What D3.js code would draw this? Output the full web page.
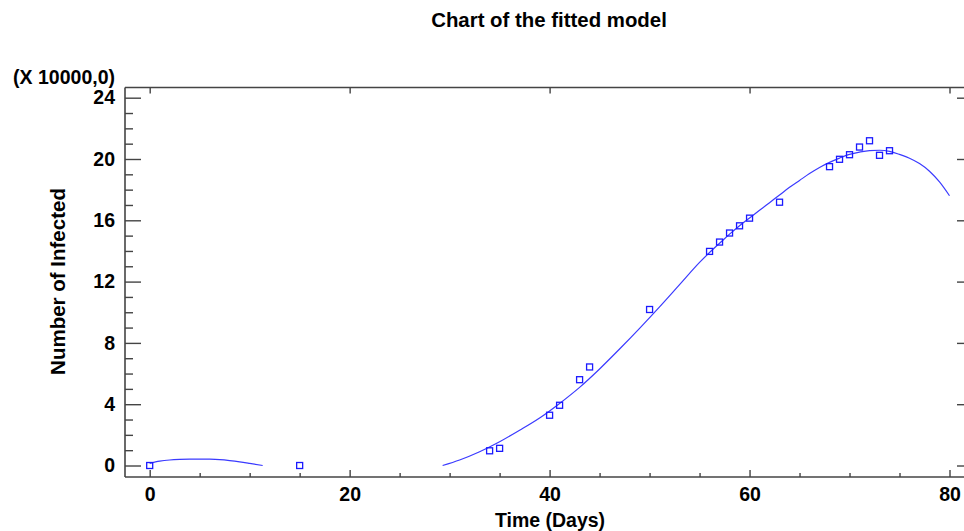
<!DOCTYPE html>
<html><head><meta charset="utf-8">
<script src="https://cdn.jsdelivr.net/npm/d3@7"></script>
<style>
body{margin:0;background:#fff;}
text{font-family:"Liberation Sans",Arial,sans-serif;font-weight:bold;fill:#000;}
</style></head>
<body>
<svg id="chart" width="964" height="531"></svg>
<script>
// Observed data (days, number of infected in units of 10000)
const obsDays = [0, 15, 34, 35, 40, 41, 43, 44, 50, 56, 57, 58, 59, 60, 63, 68, 69, 70, 71, 72, 73, 74];
const obsInfected = [0, 0, 0.96, 1.12, 3.28, 3.93, 5.6, 6.43, 10.18, 13.97, 14.58, 15.17, 15.64, 16.14, 17.18, 19.5, 19.98, 20.28, 20.78, 21.19, 20.24, 20.54];

// Fitted model curve (two visible pieces)
const fitDays1 = [0, 1, 2, 3, 4, 5, 6, 7, 8, 9, 10, 11.3];
const fitValues1 = [0.14, 0.28, 0.36, 0.40, 0.42, 0.42, 0.41, 0.38, 0.32, 0.24, 0.14, 0];
const fitDays2 = [29.3, 31, 33, 35, 37, 39, 41, 43, 45, 47, 49, 51, 53, 55, 56, 57, 58, 59, 60, 61, 62, 63, 64, 65, 66, 67, 68, 69, 70, 71, 72, 73, 74, 75, 76, 77, 78, 79, 80];
const fitValues2 = [0, 0.36, 0.9, 1.55, 2.3, 3.1, 4.05, 5.1, 6.3, 7.6, 8.95, 10.35, 11.8, 13.25, 13.9, 14.5, 15.1, 15.65, 16.15, 16.65, 17.15, 17.65, 18.15, 18.6, 19.05, 19.45, 19.78, 20.06, 20.3, 20.45, 20.55, 20.57, 20.5, 20.3, 20.05, 19.7, 19.2, 18.5, 17.6];

const xMajorTicks = [0, 20, 40, 60, 80];
const xMinorTicks = [5, 10, 15, 25, 30, 35, 45, 50, 55, 65, 70, 75];
const yMajorTicks = [0, 4, 8, 12, 16, 20, 24];
const yMinorTicks = [1, 2, 3, 5, 6, 7, 9, 10, 11, 13, 14, 15, 17, 18, 19, 21, 22, 23];

const titleText = "Chart of the fitted model";
const xLabel = "Time (Days)";
const yLabel = "Number of Infected";
const yMultiplier = "(X 10000,0)";

const svg = d3.select("#chart");
const L = 125, R = 973, T = 87.5, B = 477;
const x = d3.scaleLinear().domain([-2.47, 82.35]).range([L, R]);
const y = d3.scaleLinear().domain([-0.75, 24.665]).range([B, T]);
const FS = "19.5px";
const axisColor = "#444";

// frame
const frame = svg.append("g").attr("stroke", axisColor).attr("stroke-width", 1.6).attr("fill", "none");
frame.append("line").attr("x1", L).attr("x2", L).attr("y1", T).attr("y2", B);
frame.append("line").attr("x1", L).attr("x2", R).attr("y1", B).attr("y2", B);
frame.append("line").attr("x1", L).attr("x2", R).attr("y1", T).attr("y2", T);
frame.append("line").attr("x1", R).attr("x2", R).attr("y1", T).attr("y2", B);

function styleAxis(g) {
  g.select(".domain").remove();
  g.selectAll(".tick line").attr("stroke", axisColor).attr("stroke-width", 1.4);
  g.selectAll(".tick text").style("font-size", FS).attr("fill", "#000");
}

// bottom axis
svg.append("g").attr("transform", `translate(0,${B})`)
  .call(d3.axisBottom(x).tickValues(xMajorTicks).tickSize(-7).tickPadding(10).tickFormat(d3.format("d")))
  .call(styleAxis);
svg.append("g").attr("transform", `translate(0,${B})`)
  .call(d3.axisBottom(x).tickValues(xMinorTicks).tickSize(-4).tickFormat(""))
  .call(styleAxis);
// top axis ticks
svg.append("g").attr("transform", `translate(0,${T})`)
  .call(d3.axisTop(x).tickValues(xMajorTicks).tickSize(-6).tickFormat(""))
  .call(styleAxis);
// left axis
svg.append("g").attr("transform", `translate(${L},0)`)
  .call(d3.axisLeft(y).tickValues(yMajorTicks).tickSize(-16).tickPadding(10).tickFormat(d3.format("d")))
  .call(styleAxis);
svg.append("g").attr("transform", `translate(${L},0)`)
  .call(d3.axisLeft(y).tickValues(yMinorTicks).tickSize(-8).tickFormat(""))
  .call(styleAxis);
// right axis ticks
svg.append("g").attr("transform", `translate(${R},0)`)
  .call(d3.axisRight(y).tickValues(yMajorTicks).tickSize(-16).tickFormat(""))
  .call(styleAxis);
svg.append("g").attr("transform", `translate(${R},0)`)
  .call(d3.axisRight(y).tickValues(yMinorTicks).tickSize(-8).tickFormat(""))
  .call(styleAxis);

// fitted curves
const line = d3.line().x(d => x(d[0])).y(d => y(d[1])).curve(d3.curveMonotoneX);
const seg1 = fitDays1.map((d, i) => [d, fitValues1[i]]);
const seg2 = fitDays2.map((d, i) => [d, fitValues2[i]]);
svg.selectAll("path.fit").data([seg1, seg2]).enter().append("path")
  .attr("class", "fit").attr("d", line)
  .attr("fill", "none").attr("stroke", "#3a3aff").attr("stroke-width", 1.2);

// observed points
const pts = obsDays.map((d, i) => [d, obsInfected[i]]);
const s = 6;
svg.selectAll("rect.pt").data(pts).enter().append("rect")
  .attr("class", "pt")
  .attr("x", d => x(d[0]) - s / 2).attr("y", d => y(d[1]) - s / 2)
  .attr("width", s).attr("height", s)
  .attr("fill", "none").attr("stroke", "#1a1aff").attr("stroke-width", 1.3);

// texts
svg.append("text").attr("x", 549).attr("y", 26.5).attr("text-anchor", "middle")
  .style("font-size", "20.4px").text(titleText);
svg.append("text").attr("x", 115).attr("y", 84).attr("text-anchor", "end")
  .style("font-size", FS).text(yMultiplier);
svg.append("text").attr("x", 550).attr("y", 527).attr("text-anchor", "middle")
  .style("font-size", FS).text(xLabel);
svg.append("text").attr("transform", "translate(65,281.5) rotate(-90)").attr("text-anchor", "middle")
  .style("font-size", "20.5px").text(yLabel);
</script>
</body></html>
